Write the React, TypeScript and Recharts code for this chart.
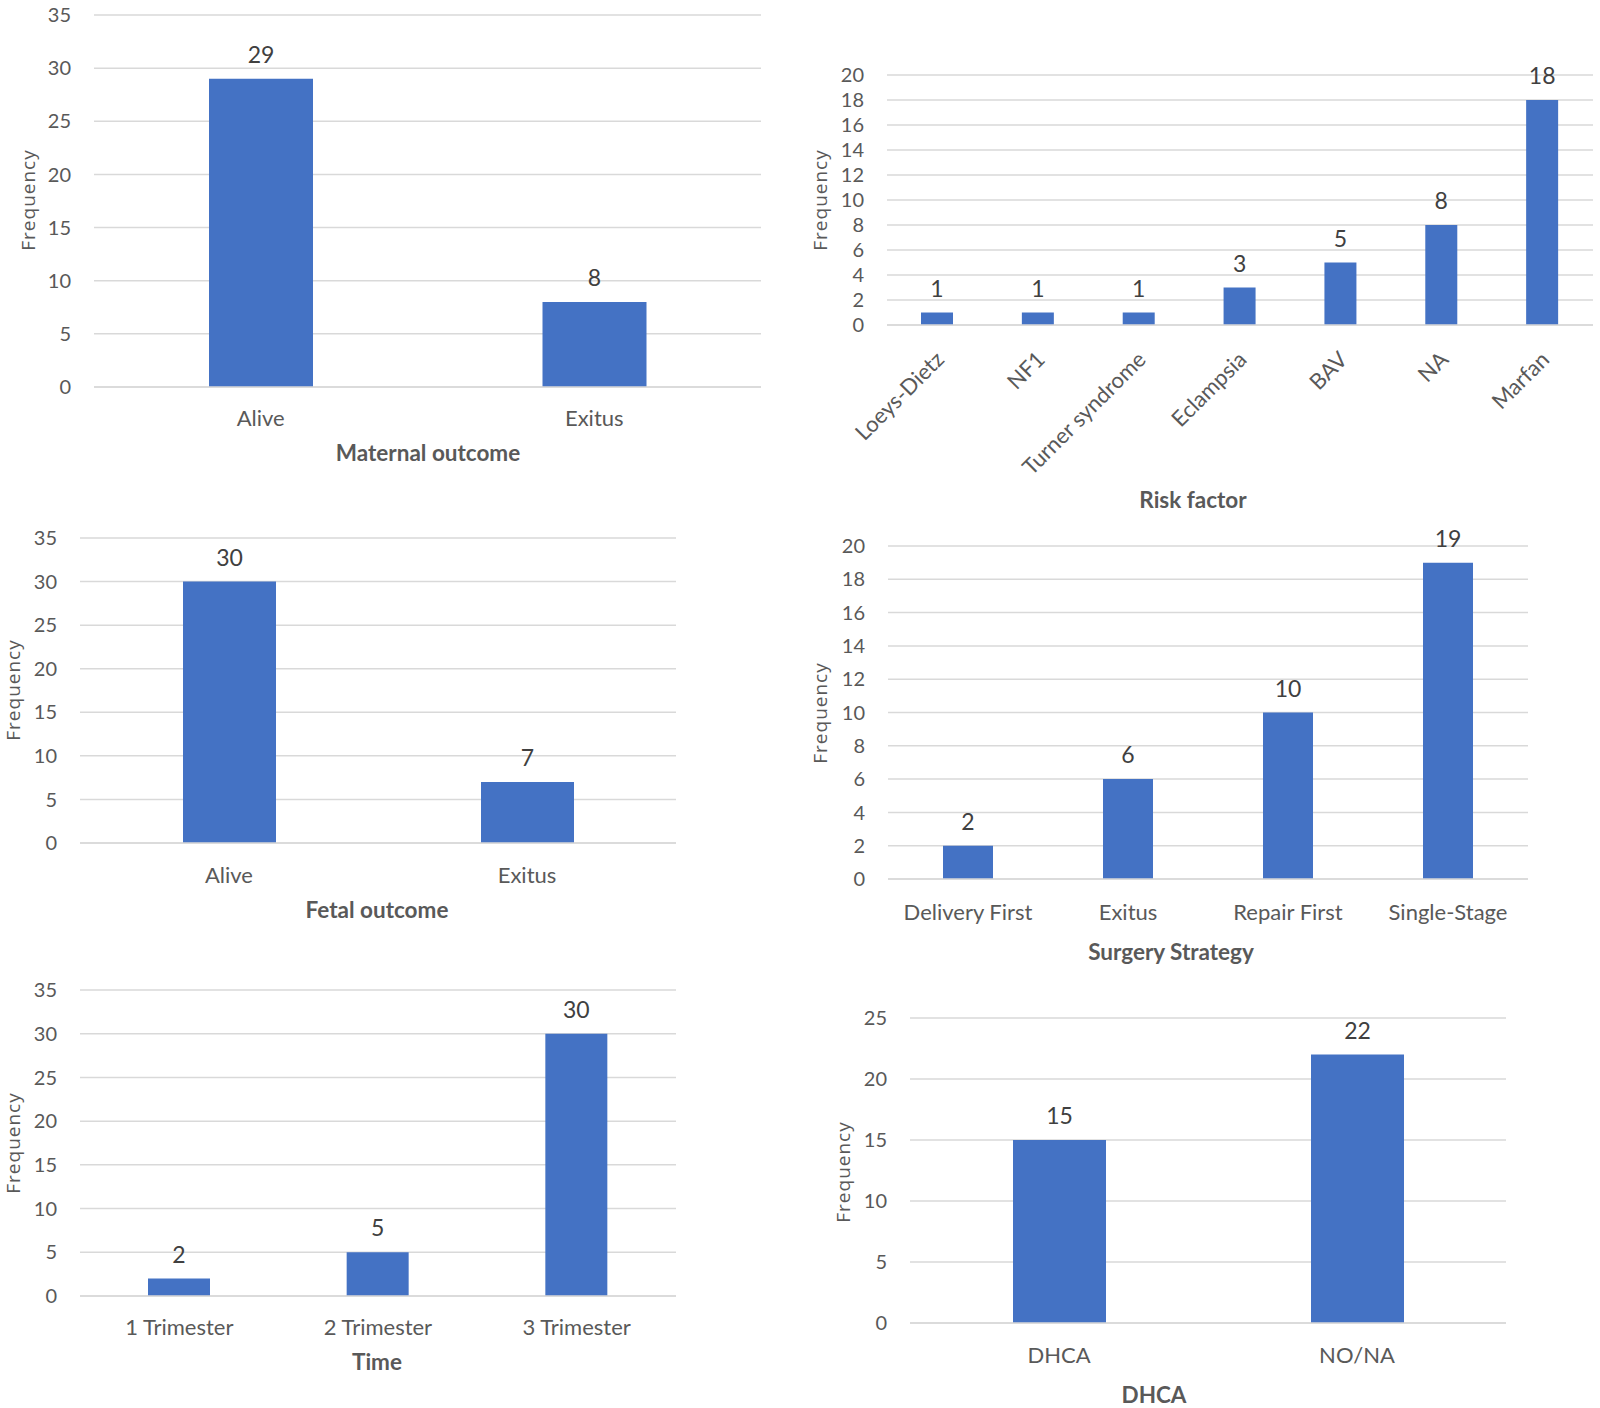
import React from "react";
import { BarChart, Bar, XAxis, YAxis, CartesianGrid, LabelList } from "recharts";

const BLUE = "#4472C4";
const GRID = "#D9D9D9";
const AXIS_TEXT = "#595959";
const VALUE_TEXT = "#404040";
const FONT = "Lato, 'Open Sans', sans-serif";

// maternal outcome
const maternalCats = ["Alive", "Exitus"];
const maternalVals = [29, 8];

// risk factor
const riskCats = ["Loeys-Dietz", "NF1", "Turner syndrome", "Eclampsia", "BAV", "NA", "Marfan"];
const riskVals = [1, 1, 1, 3, 5, 8, 18];

// fetal outcome
const fetalCats = ["Alive", "Exitus"];
const fetalVals = [30, 7];

// surgery strategy
const strategyCats = ["Delivery First", "Exitus", "Repair First", "Single-Stage"];
const strategyVals = [2, 6, 10, 19];

// time
const timeCats = ["1 Trimester", "2 Trimester", "3 Trimester"];
const timeVals = [2, 5, 30];

// DHCA
const dhcaCats = ["DHCA", "NO/NA"];
const dhcaVals = [15, 22];

const ticks35 = [0, 5, 10, 15, 20, 25, 30, 35];
const ticks20 = [0, 2, 4, 6, 8, 10, 12, 14, 16, 18, 20];
const ticks25 = [0, 5, 10, 15, 20, 25];

// slanted category label (-45deg), middle of the text line ends at the tick
function SlantTick({ x, y, payload }: any) {
  const tx = x + 2;
  const ty = y;
  return (
    <text
      x={tx}
      y={ty}
      transform={`rotate(-45, ${tx}, ${ty})`}
      textAnchor="end"
      dominantBaseline="central"
      fill={AXIS_TEXT}
      fontSize={22}
      fontFamily={FONT}
    >
      {payload.value}
    </text>
  );
}

interface PanelProps {
  cats: string[];
  vals: number[];
  ticks: number[];
  plot: { left: number; right: number; top: number; bottom: number };
  barSize: number;
  catMargin: number;
  title: string;
  titleX: number;
  titleY: number;
  freqX: number;
  freqY: number;
  angled?: boolean;
}

function Panel(p: PanelProps) {
  const yw = 60;
  const mt = 30;
  const mr = 4;
  const xh = p.angled ? 170 : 50;
  const left = p.plot.left - yw;
  const top = p.plot.top - mt;
  const width = p.plot.right - left + mr;
  const height = p.plot.bottom - p.plot.top + mt + xh;
  const data = p.cats.map((c, i) => ({ name: c, value: p.vals[i] }));
  const max = p.ticks[p.ticks.length - 1];

  return (
    <>
      <div style={{ position: "absolute", left, top }}>
        <BarChart width={width} height={height} data={data} margin={{ top: mt, right: mr, left: 0, bottom: 0 }}>
          <CartesianGrid vertical={false} stroke={GRID} strokeWidth={1.5} />
          <XAxis
            dataKey="name"
            height={xh}
            interval={0}
            tickSize={0}
            tickMargin={p.catMargin}
            tickLine={false}
            axisLine={{ stroke: GRID, strokeWidth: 1.5 }}
            tick={p.angled ? <SlantTick /> : { fill: AXIS_TEXT, fontSize: 22, fontFamily: FONT }}
          />
          <YAxis
            width={yw}
            domain={[0, max]}
            ticks={p.ticks}
            interval={0}
            tickSize={0}
            tickMargin={23}
            tickLine={false}
            axisLine={false}
            tick={{ fill: AXIS_TEXT, fontSize: 20, fontFamily: FONT }}
          />
          <Bar dataKey="value" fill={BLUE} barSize={p.barSize} isAnimationActive={false}>
            <LabelList dataKey="value" position="top" offset={16} fill={VALUE_TEXT} fontSize={23} fontFamily={FONT} />
          </Bar>
        </BarChart>
      </div>
      <div
        style={{
          position: "absolute",
          left: p.titleX,
          top: p.titleY,
          transform: "translate(-50%, -50%)",
          whiteSpace: "nowrap",
          fontFamily: FONT,
          fontWeight: 700,
          fontSize: 22.5,
          lineHeight: 1,
          color: AXIS_TEXT,
        }}
      >
        {p.title}
      </div>
      <div
        style={{
          position: "absolute",
          left: p.freqX,
          top: p.freqY,
          transform: "translate(-50%, -50%) rotate(-90deg)",
          whiteSpace: "nowrap",
          fontFamily: "'Open Sans', sans-serif",
          fontSize: 19,
          letterSpacing: 1,
          lineHeight: 1,
          color: AXIS_TEXT,
        }}
      >
        Frequency
      </div>
    </>
  );
}

export default function App() {
  return (
    <div style={{ position: "absolute", left: 0, top: 0, width: 1600, height: 1408, background: "#fff", overflow: "hidden" }}>
      <Panel
        cats={maternalCats}
        vals={maternalVals}
        ticks={ticks35}
        plot={{ left: 94, right: 761, top: 15, bottom: 387 }}
        barSize={104}
        catMargin={23}
        title="Maternal outcome"
        titleX={428}
        titleY={453}
        freqX={28}
        freqY={200}
      />
      <Panel
        cats={riskCats}
        vals={riskVals}
        ticks={ticks20}
        plot={{ left: 887, right: 1593, top: 75, bottom: 325 }}
        barSize={32}
        catMargin={30}
        title="Risk factor"
        titleX={1193}
        titleY={500}
        freqX={820}
        freqY={200}
        angled
      />
      <Panel
        cats={fetalCats}
        vals={fetalVals}
        ticks={ticks35}
        plot={{ left: 80, right: 676, top: 538, bottom: 843 }}
        barSize={93}
        catMargin={24}
        title="Fetal outcome"
        titleX={377}
        titleY={910}
        freqX={13}
        freqY={690}
      />
      <Panel
        cats={strategyCats}
        vals={strategyVals}
        ticks={ticks20}
        plot={{ left: 888, right: 1528, top: 546, bottom: 879 }}
        barSize={50}
        catMargin={25}
        title="Surgery Strategy"
        titleX={1171}
        titleY={952}
        freqX={820}
        freqY={713}
      />
      <Panel
        cats={timeCats}
        vals={timeVals}
        ticks={ticks35}
        plot={{ left: 80, right: 676, top: 990, bottom: 1296 }}
        barSize={62}
        catMargin={23}
        title="Time"
        titleX={377}
        titleY={1362}
        freqX={13}
        freqY={1143}
      />
      <Panel
        cats={dhcaCats}
        vals={dhcaVals}
        ticks={ticks25}
        plot={{ left: 910, right: 1506, top: 1018, bottom: 1323 }}
        barSize={93}
        catMargin={24}
        title="DHCA"
        titleX={1154}
        titleY={1395}
        freqX={843}
        freqY={1172}
      />
    </div>
  );
}
